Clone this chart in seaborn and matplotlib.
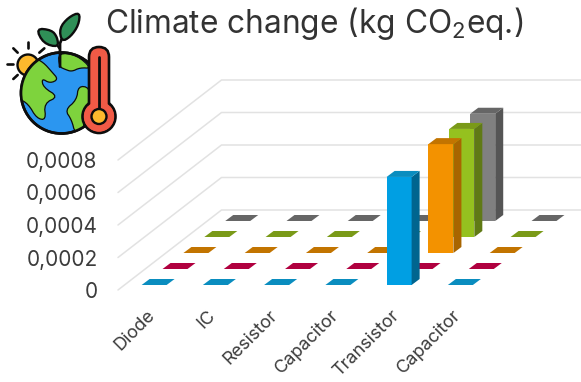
import matplotlib
matplotlib.use("Agg")
import matplotlib.pyplot as plt
import numpy as np
import pandas as pd
import seaborn as sns
from matplotlib.patches import Circle, FancyBboxPatch, Polygon
from matplotlib.transforms import Affine2D, IdentityTransform, ScaledTranslation

# Chart data
components = ["Diode", "IC", "Resistor", "Capacitor", "Transistor", "Capacitor"]
series_names = ["Series 1", "Series 2", "Series 3", "Series 4", "Series 5"]
series_1 = [0, 0, 0, 0, 0.000665, 0]
series_2 = [0, 0, 0, 0, 0, 0]
series_3 = [0, 0, 0, 0, 0.00067, 0]
series_4 = [0, 0, 0, 0, 0.000665, 0]
series_5 = [0, 0, 0, 0, 0.00066, 0]
value_ticks = [0, 0.0002, 0.0004, 0.0006, 0.0008]
tick_text = ["0", "0,0002", "0,0004", "0,0006", "0,0008"]

# (front, side, top) shades for each series
front_colors = ["#009fe3", "#e6004c", "#f39200", "#95c11f", "#808080"]
side_colors = ["#00658f", "#8f0030", "#a86500", "#607a15", "#555555"]
top_colors = ["#0a8dbf", "#b0003f", "#c27400", "#7a9a18", "#666666"]

sns.set_theme(style="white")
plt.rcParams["font.family"] = ["Inter", "DejaVu Sans"]
plt.rcParams["mathtext.default"] = "regular"

W, H = 581, 382
fig = plt.figure(figsize=(W / 100, H / 100), dpi=100)
fig.patch.set_facecolor("white")

# Axes frame is the front plane of the oblique box, in pixels
left, right, base, top = 117, 484.5, 290, 160
ax = fig.add_axes([left / W, (H - base) / H, (right - left) / W, (base - top) / H])
ax.patch.set_alpha(0)
for spine in ax.spines.values():
    spine.set_visible(False)

# Oblique depth: pixels per series slot and per bar
slot_dx, slot_dy = 20.9, 16.0
bar_dx, bar_dy = 8.0, 6.0
inset_dx, inset_dy = 6.5, 5.0

positions = np.arange(len(components))
table = pd.DataFrame({
    "position": np.tile(positions, len(series_names)),
    "series": np.repeat(series_names, len(components)),
    "impact": np.concatenate([series_1, series_2, series_3, series_4, series_5]),
})

ax.set_xlim(-0.5, len(components) - 0.5)
ax.set_ylim(0, 0.0008)

# Back series first so nearer rows overlap them
for i in reversed(range(len(series_names))):
    part = table[table["series"] == series_names[i]]
    n_before = len(ax.patches)
    sns.barplot(data=part, x="position", y="impact", native_scale=True, width=0.408,
                color=front_colors[i], saturation=1, errorbar=None, linewidth=0,
                ax=ax, zorder=3)
    ax.set_xlim(-0.5, len(components) - 0.5)
    ax.set_ylim(0, 0.0008)
    ox = inset_dx + slot_dx * i
    oy = inset_dy + slot_dy * i
    for bar in ax.patches[n_before:]:
        bar.set_transform(ax.transData + Affine2D().translate(ox, oy))
        bar.set_clip_on(False)
        bar.set_zorder(3)
        (x0, y0), (x1, y1) = ax.transData.transform(
            [(bar.get_x(), bar.get_y()), (bar.get_x() + bar.get_width(), bar.get_y() + bar.get_height())])
        x0, x1, y0, y1 = x0 + ox, x1 + ox, y0 + oy, y1 + oy
        side = [(x1, y0), (x1, y1), (x1 + bar_dx, y1 + bar_dy), (x1 + bar_dx, y0 + bar_dy)]
        cap = [(x0, y1), (x1, y1), (x1 + bar_dx, y1 + bar_dy), (x0 + bar_dx, y1 + bar_dy)]
        for verts, shade in ((side, side_colors[i]), (cap, top_colors[i])):
            ax.add_patch(Polygon(verts, closed=True, facecolor=shade, edgecolor="none",
                                 transform=IdentityTransform(), clip_on=False, zorder=3))

# Gridlines on the left wall and the back wall
depth_dx = slot_dx * len(series_names)
depth_dy = slot_dy * len(series_names)
for v in value_ticks:
    px, py = ax.transData.transform((-0.5, v))
    ax.plot([px + 1, px + depth_dx, W], [py, py + depth_dy, py + depth_dy],
            transform=IdentityTransform(), color="#e2e2e2", lw=1.1, clip_on=False, zorder=1)

ax.set_yticks(value_ticks, tick_text)
ax.set_xticks(positions, components)
ax.set_xlabel("")
ax.set_ylabel("")
ax.tick_params(axis="y", length=0, pad=14, labelsize=15, labelcolor="#3c3c3c")
ax.tick_params(axis="x", length=0, pad=12, labelsize=13, labelcolor="#3c3c3c")
shift = ScaledTranslation(-1 / 72, 0, fig.dpi_scale_trans)
for label in ax.get_xticklabels():
    label.set_rotation(45)
    label.set_ha("right")
    label.set_va("top")
    label.set_rotation_mode("anchor")
    label.set_transform(label.get_transform() + shift)

fig.text(105 / W, 1 - 33 / H, "Climate change (kg CO$_2$eq.)", fontsize=22.8,
         color="#333333", ha="left", va="baseline")

# Emblem: globe, seedling, sun and thermometer, drawn in its own pixel-space axes
icon = fig.add_axes([0, 0, 1, 1], facecolor="none")
icon.set_xlim(0, W)
icon.set_ylim(H, 0)
icon.axis("off")
ink = "#0d0d0d"
lw = 1.7


def zp(points):
    return [(x / 3, y / 3) for x, y in points]


def rounded(points, passes=2):
    # Corner cutting turns a rough outline into a smooth closed shape
    pts = np.asarray(zp(points), dtype=float)
    for _ in range(passes):
        nxt = np.roll(pts, -1, axis=0)
        pts = np.column_stack([0.75 * pts + 0.25 * nxt, 0.25 * pts + 0.75 * nxt]).reshape(-1, 2)
    return pts


# sun and rays
icon.add_patch(Circle((28, 65), 10.5, fc="#fdb92d", ec=ink, lw=lw, zorder=2))
for a, b in [((85, 125), (85, 145)), ((40, 145), (53, 158)), ((133, 145), (118, 158)),
             ((20, 191), (38, 191)), ((40, 237), (53, 225))]:
    icon.plot(*zip(*zp([a, b])), color=ink, lw=lw + 0.2, solid_capstyle="round", zorder=2)

# globe with land masses
globe = Circle((61.5, 93), 40.5, fc="#2b96f0", ec=ink, lw=lw + 0.2, zorder=3)
icon.add_patch(globe)
lands = [
    [(100, 172), (130, 187), (155, 215), (175, 238), (150, 250), (125, 235), (130, 262),
     (175, 290), (132, 310), (138, 360), (110, 355), (85, 312), (55, 295), (50, 255), (70, 205)],
    [(175, 158), (230, 165), (275, 205), (240, 203), (215, 215), (195, 208), (178, 200)],
    [(235, 258), (268, 262), (275, 310), (250, 345), (252, 395), (225, 400), (215, 360),
     (195, 330), (230, 300)],
]
for land in lands:
    shape = Polygon(rounded(land), closed=True, fc="#7ed33d", ec=ink, lw=0.9, zorder=4)
    icon.add_patch(shape)
    shape.set_clip_path(globe)
icon.add_patch(Circle((61.5, 93), 40.5, fc="none", ec=ink, lw=lw + 0.2, zorder=4.5))

# stem and leaves
icon.plot(*zip(*zp([(180, 200), (180, 130), (188, 110)])), color=ink, lw=lw + 0.3, zorder=5)
icon.plot(*zip(*zp([(178, 145), (165, 125)])), color=ink, lw=lw, zorder=5)
for leaf in (
    [(185, 125), (178, 85), (205, 52), (240, 36), (236, 75), (212, 110)],
    [(175, 142), (130, 130), (108, 85), (155, 90), (172, 112)],
):
    icon.add_patch(Polygon(rounded(leaf), closed=True, fc="#2f8f57", ec=ink, lw=lw, zorder=5))

# thermometer
icon.add_patch(Circle((99, 116.5), 16.5, fc="#f15a46", ec=ink, lw=lw + 0.2, zorder=6))
icon.add_patch(FancyBboxPatch((89, 47), 20, 75, boxstyle="round,pad=0,rounding_size=10",
                              fc="#f15a46", ec=ink, lw=lw + 0.2, zorder=6))
icon.add_patch(Circle((99, 116.5), 15, fc="#f15a46", ec="none", zorder=6.5))
icon.plot([99, 99], [57, 108], color=ink, lw=lw + 0.3, zorder=7)
icon.add_patch(Circle((99, 116.5), 7.5, fc="#fdb92d", ec=ink, lw=lw, zorder=7))

fig.savefig("out.png", dpi=100)
